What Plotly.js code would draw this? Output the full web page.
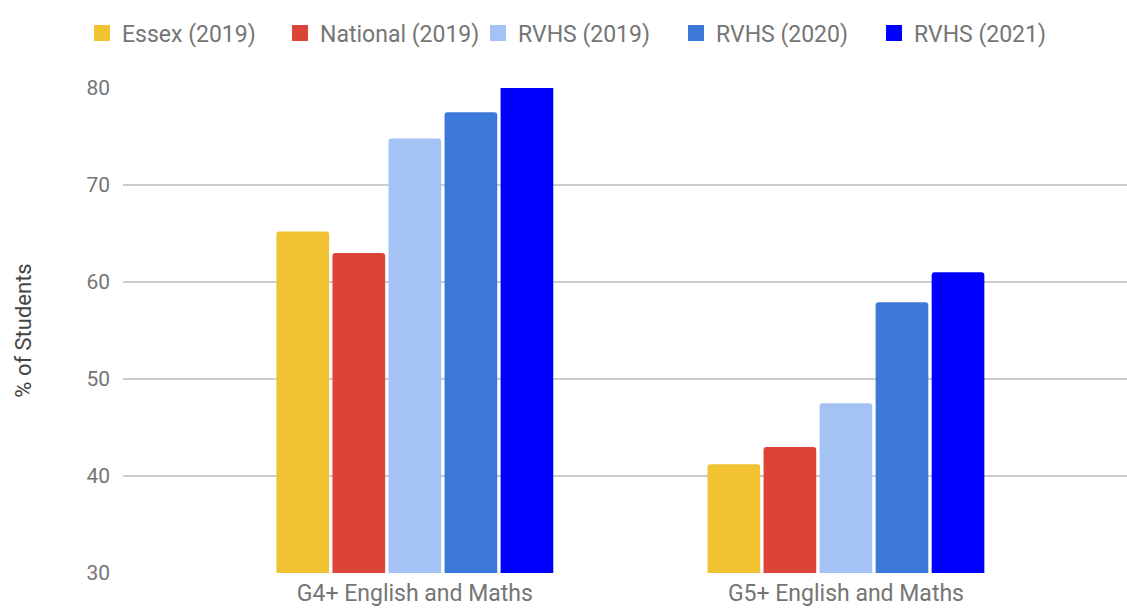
<!DOCTYPE html>
<html>
<head>
<meta charset="utf-8">
<script src="https://cdn.plot.ly/plotly-3.0.1.min.js"></script>
<style>
  html, body { margin: 0; padding: 0; background: #fff; }
  #chart { width: 1127px; height: 611px; }
</style>
</head>
<body>
<div id="chart"></div>
<script>
// categories and series
const categories = ["G4+ English and Maths", "G5+ English and Maths"];
const seriesNames = ["Essex (2019)", "National (2019)", "RVHS (2019)", "RVHS (2020)", "RVHS (2021)"];
const essex2019 = [65.2, 41.2];
const national2019 = [63.0, 43.0];
const rvhs2019 = [74.8, 47.5];
const rvhs2020 = [77.5, 57.9];
const rvhs2021 = [80.5, 61.0];
const yTicks = [30, 40, 50, 60, 70, 80];

const colors = ["#f1c232", "#db4437", "#a4c2f4", "#3c78d8", "#0000ff"];
const values = [essex2019, national2019, rvhs2019, rvhs2020, rvhs2021];

const bars = values.map((vals, i) => ({
  type: "bar",
  name: seriesNames[i],
  x: categories,
  y: vals,
  marker: {color: colors[i], cornerradius: 3},
  showlegend: false,
  legendgroup: seriesNames[i]
}));

// legend entries with bigger square swatches
const keys = seriesNames.map((n, i) => ({
  type: "scatter",
  mode: "markers",
  name: n,
  x: [null],
  y: [null],
  marker: {symbol: "square", size: 22, color: colors[i]},
  legendgroup: n,
  showlegend: true
}));

const layout = {
  width: 1127,
  height: 611,
  margin: {l: 123, r: 0, t: 88, b: 38},
  paper_bgcolor: "#fff",
  plot_bgcolor: "#fff",
  font: {family: "Roboto, Arial, sans-serif", color: "#757575", size: 20},
  barmode: "group",
  bargap: 0.35,
  bargroupgap: 0.06,
  showlegend: true,
  legend: {
    orientation: "h",
    xref: "container", yref: "container",
    x: 0.512, xanchor: "center",
    y: 0.946, yanchor: "middle",
    font: {size: 23, color: "#757575"},
    entrywidth: 153,
    itemsizing: "trace",
    traceorder: "normal"
  },
  xaxis: {
    type: "category",
    range: [-0.677, 1.652],
    showgrid: false,
    showline: false,
    ticks: "",
    ticklabelstandoff: 4,
    tickfont: {size: 23, color: "#757575"}
  },
  yaxis: {
    range: [30, 80],
    tickvals: yTicks,
    showgrid: true,
    gridcolor: "#cccccc",
    gridwidth: 1.5,
    zeroline: false,
    ticks: "",
    ticklabelstandoff: 12,
    tickfont: {size: 21, color: "#757575"},
    title: {text: "% of Students", font: {size: 22, color: "#444"}, standoff: 48}
  }
};

Plotly.newPlot("chart", bars.concat(keys), layout, {displayModeBar: false, staticPlot: true});
</script>
</body>
</html>
